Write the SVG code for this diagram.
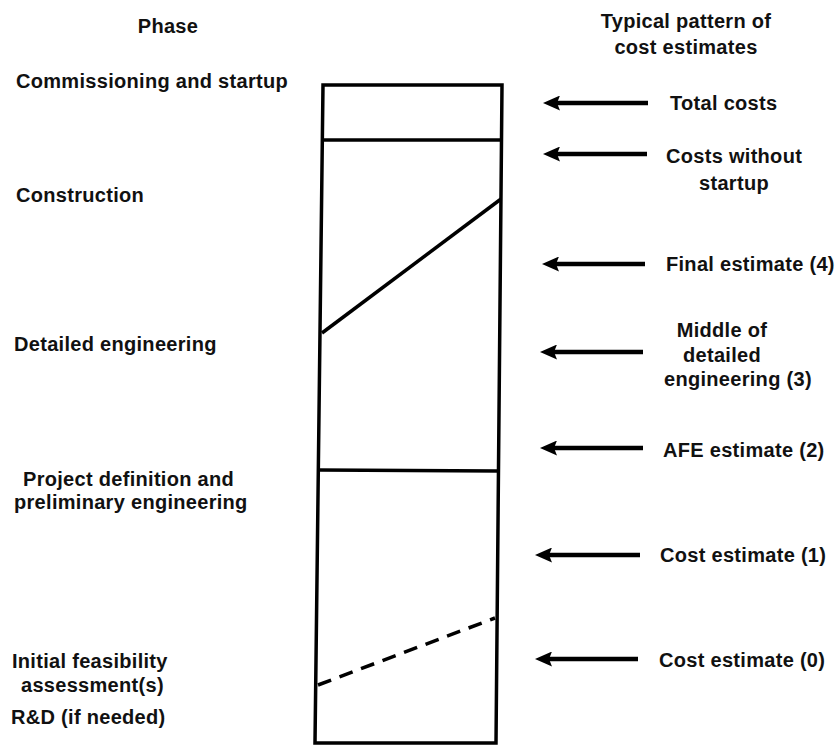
<svg xmlns="http://www.w3.org/2000/svg" width="840" height="749" viewBox="0 0 840 749">
<style>
text{font-family:"Liberation Sans",Arial,sans-serif;font-size:20px;font-weight:bold;letter-spacing:0.3px;fill:#111}
.c{text-anchor:middle}
.ln{stroke:#000;stroke-width:3.5;fill:none}
.ar{stroke:#000;stroke-width:4.5;fill:none;stroke-linecap:butt}
</style>
<defs>
<marker id="ah" viewBox="0 0 17 15" refX="8" refY="7.5" markerWidth="17" markerHeight="15" orient="auto" markerUnits="userSpaceOnUse">
<path d="M0,7.5 L17,0 L14,7.5 L17,15 Z" fill="#000"/>
</marker>
</defs>
<rect width="840" height="749" fill="#fff"/>
<g id="chart">
<polygon class="ln" points="323,85 502,85 496,743 315,743"/>
<line class="ln" x1="323" y1="140" x2="501" y2="140"/>
<line class="ln" x1="322" y1="333" x2="501" y2="199"/>
<line class="ln" x1="319" y1="470" x2="498" y2="471"/>
<line class="ln" x1="318" y1="685" x2="495" y2="618" stroke-dasharray="14,9"/>
</g>
<g id="phases">
<text class="c" x="168" y="33">Phase</text>
<text x="16" y="88">Commissioning and startup</text>
<text x="16" y="202">Construction</text>
<text x="14" y="351">Detailed engineering</text>
<text x="23" y="486">Project definition and</text>
<text x="14" y="509">preliminary engineering</text>
<text x="12" y="668">Initial feasibility</text>
<text x="21" y="692">assessment(s)</text>
<text x="11" y="724">R&amp;D (if needed)</text>
</g>
<g id="estimates">
<text class="c" x="686" y="28">Typical pattern of</text>
<text class="c" x="686" y="54">cost estimates</text>
<text x="670" y="110">Total costs</text>
<text x="666" y="163">Costs without</text>
<text class="c" x="734" y="190">startup</text>
<text x="666" y="271">Final estimate (4)</text>
<text class="c" x="722" y="337">Middle of</text>
<text class="c" x="722" y="362">detailed</text>
<text x="664" y="386">engineering (3)</text>
<text x="663" y="457">AFE estimate (2)</text>
<text x="660" y="562">Cost estimate (1)</text>
<text x="659" y="667">Cost estimate (0)</text>
</g>
<g id="connectors">
<line class="ar" x1="551" y1="103" x2="648" y2="103" marker-start="url(#ah)"/>
<line class="ar" x1="551" y1="154" x2="647" y2="154" marker-start="url(#ah)"/>
<line class="ar" x1="550" y1="264" x2="645" y2="264" marker-start="url(#ah)"/>
<line class="ar" x1="548" y1="352" x2="643" y2="352" marker-start="url(#ah)"/>
<line class="ar" x1="548" y1="448" x2="643" y2="448" marker-start="url(#ah)"/>
<line class="ar" x1="543" y1="555" x2="640" y2="555" marker-start="url(#ah)"/>
<line class="ar" x1="543" y1="659" x2="638" y2="659" marker-start="url(#ah)"/>
</g>
</svg>
